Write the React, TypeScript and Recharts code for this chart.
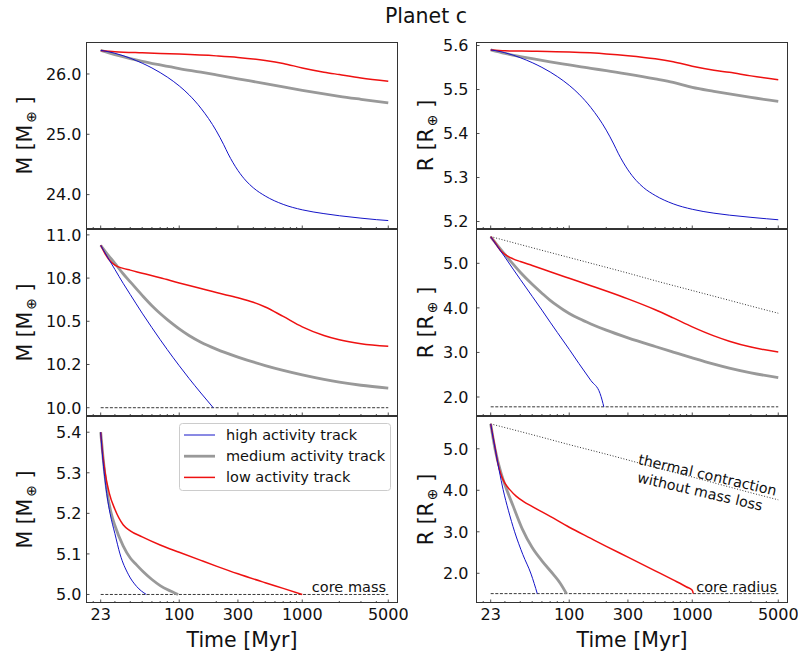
import { LineChart, Line, XAxis, YAxis } from "recharts";

const FONT = "DejaVu Sans";

// time axis (Myr), log scale
const xDomain = [17.47, 6000];
const xMajor = [23, 100, 300, 1000, 5000];
const xTicks = [20, 23, 30, 40, 50, 60, 70, 80, 90, 100, 200, 300, 400, 500, 600, 700, 800, 900, 1000, 2000, 3000, 4000, 5000];

// ---- top row ----
const tTopBlue = [23, 25, 30, 35, 40, 50, 60, 70, 80, 100, 120, 150, 200, 230, 250, 300, 350, 400, 500, 700, 1000, 1500, 2000, 3000, 4000, 5000];
const massTopBlue = [26.39, 26.379, 26.343, 26.303, 26.261, 26.179, 26.1, 26.023, 25.948, 25.802, 25.656, 25.433, 25.058, 24.827, 24.675, 24.4, 24.226, 24.113, 23.977, 23.838, 23.748, 23.685, 23.65, 23.61, 23.585, 23.57];
const radTopBlue = [5.59, 5.5885, 5.5836, 5.5781, 5.5723, 5.5611, 5.5503, 5.5398, 5.5295, 5.5095, 5.4895, 5.459, 5.4077, 5.3761, 5.3553, 5.3174, 5.2933, 5.2776, 5.2592, 5.2402, 5.2278, 5.219, 5.2145, 5.2095, 5.2063, 5.204];

const tTopGray = [23, 30, 40, 50, 70, 100, 150, 200, 300, 500, 700, 1000, 1500, 2000, 3000, 5000];
const massTopGray = [26.39, 26.32, 26.255, 26.21, 26.15, 26.09, 26.03, 25.985, 25.92, 25.84, 25.785, 25.73, 25.67, 25.63, 25.58, 25.52];
const radTopGray = [5.59, 5.582, 5.575, 5.57, 5.563, 5.556, 5.548, 5.543, 5.535, 5.524, 5.516, 5.505, 5.496, 5.49, 5.482, 5.473];

const tTopRed = [23, 30, 50, 100, 200, 300, 500, 700, 1000, 1500, 2000, 3000, 5000];
const massTopRed = [26.39, 26.37, 26.35, 26.33, 26.3, 26.275, 26.225, 26.175, 26.1, 26.03, 25.99, 25.935, 25.88];
const radTopRed = [5.59, 5.588, 5.587, 5.585, 5.581, 5.577, 5.57, 5.563, 5.553, 5.544, 5.539, 5.531, 5.522];

// ---- middle row ----
const tMidBlue = [23, 25, 30, 35, 40, 50, 60, 70, 80, 100, 120, 150, 170, 189];
const massMidBlue = [10.94, 10.895, 10.8, 10.72, 10.655, 10.547, 10.463, 10.394, 10.336, 10.243, 10.17, 10.085, 10.039, 10.0];
const tMidBlueR = [23, 25, 30, 35, 40, 50, 60, 70, 80, 100, 120, 150, 178, 185, 191];
const radMidBlue = [5.595, 5.45, 5.14, 4.87, 4.64, 4.26, 3.95, 3.68, 3.45, 3.07, 2.75, 2.37, 2.08, 1.93, 1.78];

const tMidGray = [23, 25, 30, 35, 40, 50, 60, 70, 80, 90, 100, 120, 150, 200, 300, 500, 700, 1000, 1500, 2000, 3000, 5000];
const massMidGray = [10.94, 10.905, 10.835, 10.775, 10.728, 10.65, 10.59, 10.545, 10.51, 10.481, 10.456, 10.418, 10.379, 10.339, 10.293, 10.244, 10.216, 10.19, 10.164, 10.148, 10.13, 10.113];
const radMidGray = [5.595, 5.47, 5.2, 4.98, 4.8, 4.53, 4.33, 4.17, 4.05, 3.953, 3.875, 3.76, 3.639, 3.5, 3.328, 3.133, 3.009, 2.879, 2.738, 2.648, 2.542, 2.435];

const tMidRed = [23, 25, 27, 30, 35, 40, 50, 70, 100, 150, 200, 300, 400, 500, 700, 1000, 1500, 2000, 3000, 5000];
const massMidRed = [10.94, 10.89, 10.855, 10.825, 10.806, 10.796, 10.778, 10.752, 10.722, 10.69, 10.666, 10.636, 10.61, 10.583, 10.528, 10.468, 10.418, 10.393, 10.37, 10.355];
const tMidRedR = [23, 25, 28, 30, 35, 40, 50, 70, 100, 150, 200, 300, 500, 700, 1000, 1500, 2000, 3000, 5000];
const radMidRed = [5.595, 5.46, 5.27, 5.2, 5.1, 5.04, 4.95, 4.811, 4.664, 4.497, 4.378, 4.202, 3.958, 3.775, 3.574, 3.372, 3.253, 3.121, 3.01];

// ---- bottom row ----
const tBotBlue = [23, 24, 25, 26, 27.4, 30, 33, 38.5, 45, 54];
const massBotBlue = [5.4, 5.33, 5.28, 5.24, 5.2, 5.15, 5.1, 5.05, 5.02, 5.0];
const tBotBlueR = [23, 24, 25, 27, 29, 32, 36, 42, 49, 55];
const radBotBlue = [5.6, 5.28, 5.0, 4.47, 4.02, 3.52, 3.0, 2.45, 1.98, 1.51];

const tBotGray = [23, 24, 25, 26, 28, 30, 35, 40, 45, 51, 60, 70, 80, 90, 98];
const massBotGray = [5.4, 5.34, 5.29, 5.25, 5.2, 5.17, 5.12, 5.09, 5.073, 5.056, 5.037, 5.022, 5.012, 5.005, 5.0];
const tBotGrayR = [23, 25, 28, 31, 35, 41.5, 50, 60, 74, 85, 95];
const radBotGray = [5.6, 4.98, 4.4, 4.02, 3.62, 3.07, 2.62, 2.3, 1.98, 1.75, 1.51];

const tBotRed = [23, 24, 25, 27, 30, 35, 40, 50, 70, 100, 150, 200, 300, 500, 700, 1000];
const massBotRed = [5.4, 5.34, 5.3, 5.25, 5.21, 5.172, 5.157, 5.142, 5.122, 5.104, 5.084, 5.07, 5.051, 5.029, 5.015, 5.0];
const tBotRedR = [23, 24, 25, 26, 28, 30, 33, 37, 42, 51, 70, 100, 150, 200, 300, 500, 700, 900, 1000, 1020];
const radBotRed = [5.6, 5.3, 5.02, 4.72, 4.36, 4.17, 4.01, 3.86, 3.74, 3.595, 3.37, 3.11, 2.84, 2.65, 2.39, 2.06, 1.84, 1.67, 1.59, 1.51];

// thermal contraction without mass loss (dotted)
const tThermal = [23, 50, 100, 200, 300, 500, 1000, 2000, 3000, 5000];
const radThermalMid = [5.6, 5.35, 5.13, 4.91, 4.78, 4.61, 4.39, 4.17, 4.04, 3.88];
const radThermalBot = [5.6, 5.34, 5.1, 4.87, 4.73, 4.55, 4.32, 4.08, 3.94, 3.77];

// core values (dashed)
const tCore = [23, 5000];
const coreMassMid = [10.0, 10.0];
const coreRadMid = [1.78, 1.78];
const coreMassBot = [5.0, 5.0];
const coreRadBot = [1.51, 1.51];

const rows = (t: number[], v: number[]) => t.map((tt, i) => ({ t: tt, v: v[i] }));

const BLUE = "#1414c8";
const GRAY = "#999999";
const RED = "#ee1111";

const blue = (t: number[], v: number[]) => ({ data: rows(t, v), color: BLUE, width: 1 });
const gray = (t: number[], v: number[]) => ({ data: rows(t, v), color: GRAY, width: 2.8 });
const red = (t: number[], v: number[]) => ({ data: rows(t, v), color: RED, width: 1.5 });
const core = (v: number[]) => ({ data: rows(tCore, v), color: "#222", width: 0.9, dash: "3 1.6" });
const thermal = (v: number[]) => ({ data: rows(tThermal, v), color: "#333", width: 1, dash: "1 1.8" });

const PW = 312;
const PH = 187;
const YW = 80;
const LEFT_X = 86;
const RIGHT_X = 476;
const ROW_Y = [42, 229, 416];

function XTick(props: any) {
  const { x, y, payload, showLabel } = props;
  const major = xMajor.includes(payload.value);
  return (
    <g>
      <line x1={x} x2={x} y1={y} y2={y - (major ? 3.5 : 2)} stroke="#222" strokeWidth={0.8} />
      {showLabel && major && (
        <text x={x} y={y + 16.5} textAnchor="middle" fontSize={16} fontFamily={FONT} fill="#111">
          {payload.value}
        </text>
      )}
    </g>
  );
}

function Panel(props: any) {
  const { left, top, yDomain, yTicks, yLabels, series, bottom, sym, titleOff, gap } = props;
  const yTick = (p: any) => {
    const i = yTicks.indexOf(p.payload.value);
    return (
      <g>
        <line x1={p.x} x2={p.x + 3.5} y1={p.y} y2={p.y} stroke="#222" strokeWidth={0.8} />
        <text x={p.x - gap} y={p.y + 5.8} textAnchor="end" fontSize={16} fontFamily={FONT} fill="#111">
          {yLabels[i]}
        </text>
      </g>
    );
  };
  const yTitle = () => {
    const x = YW - titleOff;
    const y = 10 + PH / 2;
    return (
      <text x={x} y={y} transform={`rotate(-90, ${x}, ${y})`} textAnchor="middle" fontSize={20.5} fontFamily={FONT} fill="#111">
        {sym} [{sym}
        <tspan fontSize={14} dy={4} dx={2}>⊕</tspan>
        <tspan dy={-4}> ]</tspan>
      </text>
    );
  };
  const xTitle = () => (
    <text x={YW + PW / 2} y={10 + PH + 44} textAnchor="middle" fontSize={20.5} fontFamily={FONT} fill="#111">
      Time [Myr]
    </text>
  );
  return (
    <div style={{ position: "absolute", left: left - YW, top: top - 10 }}>
      <LineChart width={PW + YW + 10} height={PH + 60} margin={{ top: 10, right: 10, bottom: 0, left: 0 }}>
        <XAxis
          dataKey="t"
          type="number"
          scale="log"
          domain={xDomain}
          allowDataOverflow
          ticks={xTicks}
          interval={0}
          tickSize={0}
          tickMargin={0}
          axisLine={false}
          tickLine={false}
          height={50}
          tick={<XTick showLabel={bottom} />}
          label={bottom ? xTitle : undefined}
        />
        <YAxis
          type="number"
          domain={yDomain}
          allowDataOverflow
          ticks={yTicks}
          interval={0}
          width={YW}
          tickSize={0}
          tickMargin={0}
          axisLine={false}
          tickLine={false}
          tick={yTick}
          label={yTitle}
        />
        {series.map((s: any, i: number) => (
          <Line
            key={i}
            data={s.data}
            dataKey="v"
            type="monotone"
            stroke={s.color}
            strokeWidth={s.width}
            strokeDasharray={s.dash}
            dot={false}
            activeDot={false}
            isAnimationActive={false}
          />
        ))}
      </LineChart>
      <div
        style={{
          position: "absolute",
          left: YW,
          top: 10,
          width: PW,
          height: PH,
          boxSizing: "border-box",
          border: "1px solid #333",
          pointerEvents: "none",
        }}
      />
    </div>
  );
}

const legendItems = [
  { label: "high activity track", color: BLUE, width: 1 },
  { label: "medium activity track", color: GRAY, width: 2.8 },
  { label: "low activity track", color: RED, width: 1.5 },
];

export default function App() {
  return (
    <div style={{ position: "absolute", left: 0, top: 0, width: 803, height: 657, background: "#fff", fontFamily: FONT }}>
      <Panel
        left={LEFT_X}
        top={ROW_Y[0]}
        yDomain={[23.43, 26.53]}
        yTicks={[24, 25, 26]}
        yLabels={["24.0", "25.0", "26.0"]}
        sym="M"
        titleOff={54}
        gap={4.5}
        series={[gray(tTopGray, massTopGray), red(tTopRed, massTopRed), blue(tTopBlue, massTopBlue)]}
      />
      <Panel
        left={RIGHT_X}
        top={ROW_Y[0]}
        yDomain={[5.183, 5.608]}
        yTicks={[5.2, 5.3, 5.4, 5.5, 5.6]}
        yLabels={["5.2", "5.3", "5.4", "5.5", "5.6"]}
        sym="R"
        titleOff={43}
        gap={7.5}
        series={[gray(tTopGray, radTopGray), red(tTopRed, radTopRed), blue(tTopBlue, radTopBlue)]}
      />
      <Panel
        left={LEFT_X}
        top={ROW_Y[1]}
        yDomain={[9.952, 11.034]}
        yTicks={[10, 10.25, 10.5, 10.75, 11]}
        yLabels={["10.0", "10.2", "10.5", "10.8", "11.0"]}
        sym="M"
        titleOff={54}
        gap={4.5}
        series={[core(coreMassMid), gray(tMidGray, massMidGray), red(tMidRed, massMidRed), blue(tMidBlue, massMidBlue)]}
      />
      <Panel
        left={RIGHT_X}
        top={ROW_Y[1]}
        yDomain={[1.574, 5.77]}
        yTicks={[2, 3, 4, 5]}
        yLabels={["2.0", "3.0", "4.0", "5.0"]}
        sym="R"
        titleOff={43}
        gap={7.5}
        series={[
          core(coreRadMid),
          thermal(radThermalMid),
          gray(tMidGray, radMidGray),
          red(tMidRedR, radMidRed),
          blue(tMidBlueR, radMidBlue),
        ]}
      />
      <Panel
        left={LEFT_X}
        top={ROW_Y[2]}
        yDomain={[4.979, 5.44]}
        yTicks={[5.0, 5.1, 5.2, 5.3, 5.4]}
        yLabels={["5.0", "5.1", "5.2", "5.3", "5.4"]}
        sym="M"
        titleOff={54}
        gap={4.5}
        bottom
        series={[core(coreMassBot), gray(tBotGray, massBotGray), red(tBotRed, massBotRed), blue(tBotBlue, massBotBlue)]}
      />
      <Panel
        left={RIGHT_X}
        top={ROW_Y[2]}
        yDomain={[1.284, 5.79]}
        yTicks={[2, 3, 4, 5]}
        yLabels={["2.0", "3.0", "4.0", "5.0"]}
        sym="R"
        titleOff={43}
        gap={7.5}
        bottom
        series={[
          core(coreRadBot),
          thermal(radThermalBot),
          gray(tBotGrayR, radBotGray),
          red(tBotRedR, radBotRed),
          blue(tBotBlueR, radBotBlue),
        ]}
      />

      {/* title, legend and annotations */}
      <svg width={803} height={657} style={{ position: "absolute", left: 0, top: 0, pointerEvents: "none" }}>
        <text x={426} y={23} textAnchor="middle" fontSize={20.5} fontFamily={FONT} fill="#111">
          Planet c
        </text>

        <rect x={179.5} y={423.5} width={211} height={67} rx={3} fill="#fff" fillOpacity={0.85} stroke="#ccc" />
        {legendItems.map((it, i) => (
          <g key={it.label}>
            <line x1={184} x2={215} y1={435 + i * 21.2} y2={435 + i * 21.2} stroke={it.color} strokeWidth={it.width} />
            <text x={226} y={440 + i * 21.2} fontSize={14.5} fontFamily={FONT} fill="#111">
              {it.label}
            </text>
          </g>
        ))}

        <text x={386} y={591.5} textAnchor="end" fontSize={14.5} fontFamily={FONT} fill="#111">
          core mass
        </text>
        <text x={777} y={591.5} textAnchor="end" fontSize={14.5} fontFamily={FONT} fill="#111">
          core radius
        </text>
        <text x={707.5} y={480} textAnchor="middle" fontSize={14.3} fontFamily={FONT} fill="#111" transform="rotate(13, 707.5, 475)">
          thermal contraction
        </text>
        <text x={700} y={496.5} textAnchor="middle" fontSize={14.3} fontFamily={FONT} fill="#111" transform="rotate(13, 700, 491.7)">
          without mass loss
        </text>
      </svg>
    </div>
  );
}
